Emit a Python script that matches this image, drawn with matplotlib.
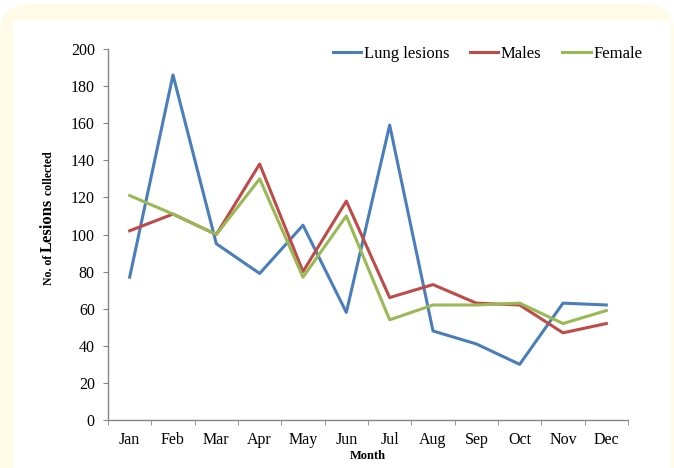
import matplotlib
matplotlib.use("Agg")
import matplotlib.pyplot as plt
import numpy as np
from matplotlib.patches import FancyBboxPatch, Rectangle

# ---------------- data ---------------- #
months = ["Jan", "Feb", "Mar", "Apr", "May", "Jun",
          "Jul", "Aug", "Sep", "Oct", "Nov", "Dec"]
lung = [77, 186, 95, 79, 105, 58, 159, 48, 41, 30, 63, 62]
males = [102, 111, 100, 138, 80, 118, 66, 73, 63, 62, 47, 52]
female = [121, 111, 100, 130, 77, 110, 54, 62, 62, 63, 52, 59]
yticks = list(range(0, 201, 20))

plt.rcParams["font.family"] = "Liberation Serif"

W, H = 674, 468
fig = plt.figure(figsize=(W / 100, H / 100), dpi=100)

# pale yellow rounded frame with white panel inside
frame = FancyBboxPatch((0.0, -0.5), 6.74, 4.64 + 0.5,
                       boxstyle="round,pad=0,rounding_size=0.3",
                       transform=fig.dpi_scale_trans,
                       facecolor="#FFFBE6", edgecolor="none", zorder=-10)
panel = Rectangle((0.13, -0.1), 6.58, 4.48 + 0.1,
                  transform=fig.dpi_scale_trans,
                  facecolor="white", edgecolor="none", zorder=-9)
fig.patches.extend([frame, panel])

ax = fig.add_axes([108 / W, 1 - 420 / H, (628 - 108) / W, (420 - 49) / H])
ax.set_facecolor("none")

x = np.arange(len(months))
ax.plot(x, lung, color="#4A7EBB", lw=2.2, label="Lung lesions")
ax.plot(x, males, color="#BE4B48", lw=2.2, label="Males")
ax.plot(x, female, color="#98B954", lw=2.2, label="Female")

ax.set_xlim(-0.5, len(months) - 0.5)
ax.set_ylim(0, 200)
ax.set_yticks(yticks)
ax.set_xticks(x)
ax.set_xticklabels(months)
ax.set_xticks(np.arange(-0.5, len(months), 1), minor=True)

gray = "#868686"
for side in ["top", "right"]:
    ax.spines[side].set_visible(False)
for side in ["left", "bottom"]:
    ax.spines[side].set_color(gray)
    ax.spines[side].set_linewidth(1.0)
ax.tick_params(axis="y", length=3.5, color=gray, labelsize=11.5, pad=6)
ax.tick_params(axis="x", which="major", length=0, labelsize=11.5, pad=9)
ax.tick_params(axis="x", which="minor", length=3.8, color=gray)

ax.legend(loc="center left", bbox_to_anchor=(333 / W, 1 - 54 / H),
          bbox_transform=fig.transFigure, ncol=3, frameon=False,
          fontsize=12, handlelength=1.7, handletextpad=0.15,
          columnspacing=1.25, borderpad=0, borderaxespad=0)

fig.text(368 / W, 1 - 456 / H, "Month", ha="center", va="center",
         fontsize=9, fontweight="bold")

# y label with a bigger middle word, built from three rotated pieces
fig.canvas.draw()
renderer = fig.canvas.get_renderer()
pieces = [("No. of ", 8.5), ("Lesions", 12), (" collected", 8.5)]
ypos = 285.0
for txt, size in pieces:
    t = fig.text(52 / W, 1 - ypos / H, txt, rotation=90,
                 rotation_mode="anchor", ha="left", va="baseline",
                 fontsize=size, fontweight="bold")
    bb = t.get_window_extent(renderer)
    ypos -= bb.height

fig.savefig("out.png", dpi=100)
